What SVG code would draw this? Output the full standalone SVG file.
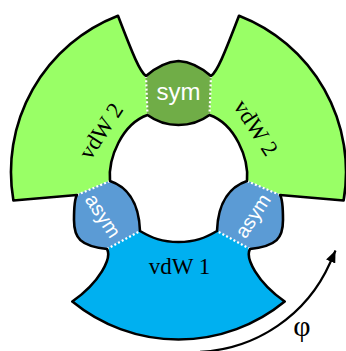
<svg xmlns="http://www.w3.org/2000/svg" width="346" height="351" viewBox="0 0 346 351">
<defs>
<style>
.fill{stroke-width:1;stroke-linejoin:round}
.lg{fill:#99FF66;stroke:#99FF66}
.dg{fill:#70AD47;stroke:#70AD47}
.as{fill:#5B9BD5;stroke:#5B9BD5}
.bl{fill:#00B0F0;stroke:#00B0F0}
.outline{fill:none;stroke:#000;stroke-width:2.6;stroke-linejoin:round}
.dot{fill:none;stroke:#fff;stroke-width:2.2;stroke-dasharray:2 2.2}
.w{fill:#fff;font-family:"Liberation Sans","Open Sans",sans-serif;text-anchor:middle}
.b{fill:#000;font-family:"Liberation Serif","DejaVu Serif",serif;font-size:23px;text-anchor:middle}
.phi{fill:#000;font-family:"Liberation Serif","DejaVu Serif",serif;font-size:30px;text-anchor:middle}
</style>
<marker id="ah" markerUnits="userSpaceOnUse" markerWidth="12" markerHeight="10" refX="12" refY="5" orient="auto">
<path d="M0,0 L12,5 L0,10 Z" fill="#000"/>
</marker>
</defs>
<g id="vdw2-left">
<path class="fill lg" d="M 118 15.8 A 167.5 167.5 0 0 0 13.4 200.5 L 77 195 L 110 181 C 108 158 122 124 147.5 115 L 146 76 C 140 72 133 55 118 15.8 Z"/>
<text class="b" transform="translate(107.2 135.2) rotate(-57)">vdW 2</text>
</g>
<g id="vdw2-right">
<path class="fill lg" d="M 239 15.8 A 167.5 167.5 0 0 1 343.6 200.5 L 280 195 L 247 181 C 249 158 235 124 209.5 115 L 211 76 C 217 72 224 55 239 15.8 Z"/>
<text class="b" transform="translate(249.5 131.8) rotate(57)">vdW 2</text>
</g>
<g id="sym">
<path class="fill dg" d="M 146 76 Q 162 62 178.5 61 Q 195 62 211 76 L 209.5 115 C 200 122 190 125 178.5 125 C 167 125 157 122 147.5 115 Z"/>
<text class="w" x="178.5" y="100" font-size="24">sym</text>
</g>
<g id="asym-left">
<path class="fill as" d="M 77 195 L 110 181 C 125 186 139 200 140 231 L 107 249 C 80 246 74 238 74 220 C 74 205 75 198 77 195 Z"/>
<text class="w" font-size="20" transform="translate(97.3 219.5) rotate(57)">asym</text>
</g>
<g id="asym-right">
<path class="fill as" d="M 280 195 L 247 181 C 232 186 218 200 217 231 L 250 249 C 277 246 283 238 283 220 C 283 205 282 198 280 195 Z"/>
<text class="w" font-size="20" transform="translate(258.5 219.5) rotate(-57)">asym</text>
</g>
<g id="vdw1">
<path class="fill bl" d="M 107 249 C 112 258 100 282 72.3 301.5 A 167.5 167.5 0 0 0 284.7 301.5 C 257 282 245 258 250 249 L 217 231 C 205 238 195 242 178.5 242 C 162 242 152 238 140 231 Z"/>
<text class="b" x="179.5" y="274">vdW 1</text>
</g>
<g id="connectors">
<path class="dot" d="M146 76 L147.5 115 M211 76 L209.5 115 M77 195 L110 181 M107 249 L140 231 M280 195 L247 181 M250 249 L217 231"/>
<path class="outline" d="M 118 15.8 A 167.5 167.5 0 0 0 13.4 200.5 L 77 195 C 75 198 74 205 74 220 C 74 238 80 246 107 249 C 112 258 100 282 72.3 301.5 A 167.5 167.5 0 0 0 284.7 301.5 C 257 282 245 258 250 249 C 277 246 283 238 283 220 C 283 205 282 198 280 195 L 343.6 200.5 A 167.5 167.5 0 0 0 239 15.8 C 224 55 217 72 211 76 Q 195 62 178.5 61 Q 162 62 146 76 C 140 72 133 55 118 15.8 Z"/>
<path class="outline" d="M 147.5 115 C 157 122 167 125 178.5 125 C 190 125 200 122 209.5 115 C 235 124 249 158 247 181 C 232 186 218 200 217 231 C 205 238 195 242 178.5 242 C 162 242 152 238 140 231 C 139 200 125 186 110 181 C 108 158 122 124 147.5 115 Z"/>
<path id="phi-arrow" d="M 200 351.8 A 150 150 0 0 0 330 263 L 335.5 250.5" fill="none" stroke="#000" stroke-width="2.2" marker-end="url(#ah)"/>
</g>
<g id="phi">
<text class="phi" x="302" y="336">φ</text>
</g>
</svg>
